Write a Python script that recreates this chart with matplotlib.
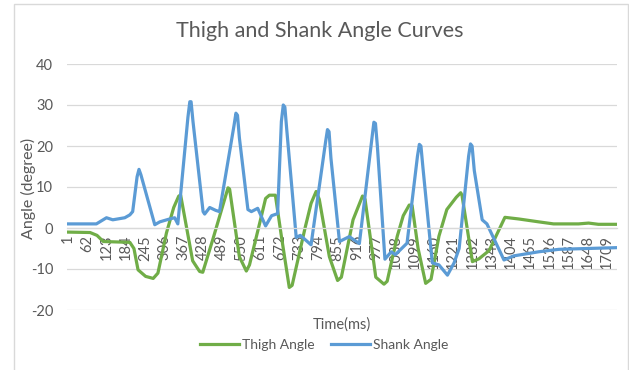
import matplotlib
matplotlib.use("Agg")
import matplotlib.pyplot as plt
from matplotlib.lines import Line2D
from matplotlib.patches import Rectangle

plt.rcParams['font.family'] = ['Lato', 'DejaVu Sans']

# time stamps (ms) and angles (degree)
shank_t = [1, 91, 123, 143, 181, 197, 206, 220, 226, 232, 276, 292, 323, 339,
           349, 381, 387, 391, 397, 429, 434, 450, 469, 481, 527, 533, 538, 544,
           571, 582, 602, 627, 646, 665, 677, 683, 688, 694, 724, 737, 771, 817,
           823, 828, 834, 861, 892, 924, 964, 970, 975, 981, 1005, 1025, 1038,
           1075, 1108, 1114, 1119, 1125, 1155, 1176, 1203, 1224, 1240, 1270,
           1276, 1281, 1288, 1313, 1328, 1382, 1413, 1492, 1556, 1736]
shank_angle = [1.0, 1.0, 2.5, 2.0, 2.5, 3.2, 4.0, 12.5, 14.3, 13.0, 0.8, 1.5,
               2.2, 2.5, 1.0, 27.0, 30.8, 30.8, 26.0, 4.0, 3.4, 5.0, 4.3, 4.0,
               25.0, 28.0, 27.5, 22.0, 4.5, 4.0, 4.8, 0.5, 3.0, 3.5, 26.0, 30.0,
               29.5, 24.0, -2.3, -1.8, -4.1, 21.0, 24.0, 23.5, 17.0, -3.3, -2.1,
               -3.8, 22.0, 25.8, 25.5, 20.0, -7.6, -5.8, -6.5, -3.7, 17.5, 20.4,
               20.0, 15.0, -8.5, -9.0, -11.5, -8.5, -5.0, 17.5, 20.5, 20.0, 14.0,
               2.0, 1.0, -7.8, -6.8, -5.8, -5.2, -4.8]

thigh_t = [1, 71, 93, 113, 197, 210, 223, 247, 271, 286, 313, 336, 352, 358,
           396, 418, 428, 459, 508, 513, 544, 566, 576, 614, 627, 639, 658, 677,
           702, 711, 752, 771, 787, 797, 829, 855, 867, 904, 934, 942, 976,
           1002, 1012, 1044, 1063, 1082, 1091, 1110, 1134, 1151, 1176, 1201,
           1231, 1245, 1249, 1282, 1303, 1335, 1385, 1429, 1492, 1539, 1618,
           1650, 1681, 1736]
thigh_angle = [-1.0, -1.1, -1.8, -3.3, -3.5, -5.0, -10.2, -11.8, -12.3, -11.0,
               -1.2, 5.0, 7.8, 8.0, -8.0, -10.6, -10.8, -3.0, 9.8, 9.5, -7.0,
               -10.5, -9.0, 3.0, 7.2, 8.0, 8.0, -2.0, -14.5, -14.0, 0.0, 6.0,
               8.9, 7.0, -7.0, -12.8, -12.0, 2.0, 7.8, 7.0, -12.0, -13.7, -13.0,
               -2.0, 3.0, 5.6, 5.5, -5.0, -13.5, -12.5, -2.0, 4.5, 7.5, 8.6, 8.0,
               -8.2, -7.5, -5.5, 2.6, 2.2, 1.5, 1.0, 1.0, 1.2, 0.9, 0.9]

tick_ms = list(range(1, 1710, 61))
y_ticks = [-20, -10, 0, 10, 20, 30, 40]

GREEN = '#70ad47'
BLUE = '#5b9bd5'
GRID = '#d9d9d9'
TEXT = '#595959'

fig = plt.figure(figsize=(6.29, 3.70), dpi=100)
ax = fig.add_axes([67 / 629, 1 - 310 / 370, 550 / 629, 246 / 370])

# horizontal axis sits on the zero line (set before labels, it resets ticks)
for side in ['top', 'right', 'left']:
    ax.spines[side].set_visible(False)
ax.spines['bottom'].set_position(('data', 0))
ax.spines['bottom'].set_color(GRID)
ax.spines['bottom'].set_linewidth(0.9)

ax.plot(thigh_t, thigh_angle, color=GREEN, lw=2.3, solid_joinstyle='round')
ax.plot(shank_t, shank_angle, color=BLUE, lw=2.3, solid_joinstyle='round')

ax.set_xlim(-2, 1740)
ax.set_ylim(-20, 40)
ax.set_yticks(y_ticks)
ax.set_yticklabels([str(v) for v in y_ticks], color=TEXT, fontsize=10.5)
ax.set_xticks(tick_ms)
ax.set_xticklabels([str(v) for v in tick_ms], rotation=90, color=TEXT,
                   fontsize=10.5, ha='center', va='top')
ax.tick_params(axis='both', length=0)
ax.tick_params(axis='y', pad=10)
ax.tick_params(axis='x', pad=5)

ax.grid(axis='y', color=GRID, lw=0.9)
ax.set_axisbelow(True)

fig.text(320 / 629, 1 - 31 / 370, 'Thigh and Shank Angle Curves', ha='center',
         va='center', fontsize=15.5, color=TEXT)
fig.text(28 / 629, 1 - 188 / 370, 'Angle (degree)', rotation=90, ha='center',
         va='center', fontsize=11.5, color=TEXT)
fig.text(342 / 629, 1 - 325 / 370, 'Time(ms)', ha='center', va='center',
         fontsize=10.5, color=TEXT)

handles = [Line2D([], [], color=GREEN, lw=2.3), Line2D([], [], color=BLUE, lw=2.3)]
fig.legend(handles, ['Thigh Angle', 'Shank Angle'], loc='center',
           bbox_to_anchor=(324 / 629, 1 - 345 / 370), ncol=2, frameon=False,
           fontsize=10, labelcolor=TEXT, handlelength=2.8, handletextpad=0.2,
           columnspacing=1.2)

# chart area border
fig.patches.append(Rectangle((13.5 / 629, -0.05), (628 - 13.5) / 629, 1.04,
                             transform=fig.transFigure, fill=False,
                             edgecolor=GRID, lw=1))

fig.savefig('out.png', dpi=100)
